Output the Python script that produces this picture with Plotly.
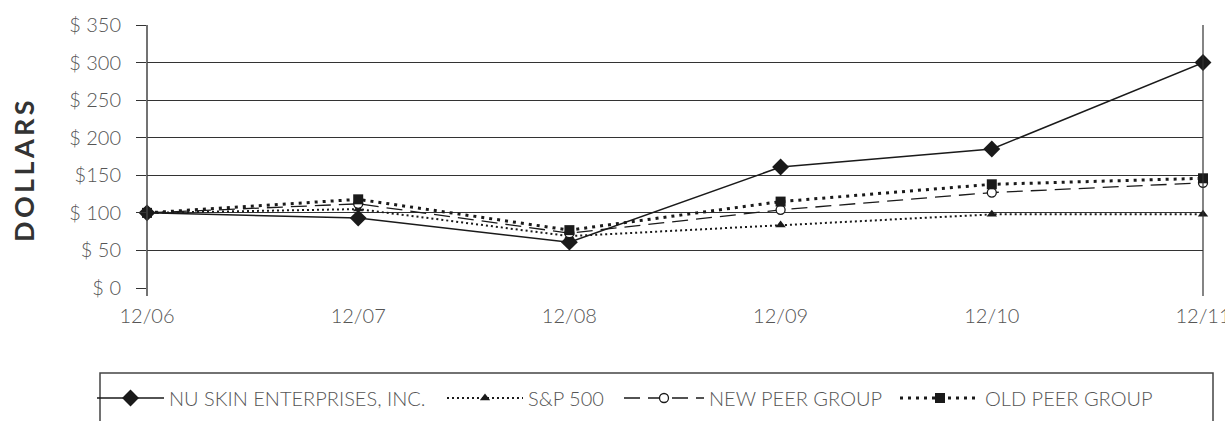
import plotly.graph_objects as go

periods = ["12/06", "12/07", "12/08", "12/09", "12/10", "12/11"]
nu_skin = [100, 93, 61, 161, 185, 300]
sp500 = [100, 105, 69, 84, 98, 98]
new_peer = [100, 112, 73, 104, 127, 140]
old_peer = [100, 118, 77, 115, 138, 146]

y_ticks = [0, 50, 100, 150, 200, 250, 300, 350]
y_tick_labels = ["$ 0", "$ 50", "$ 100", "$150", "$ 200", "$ 250", "$ 300", "$ 350"]

FONT = "Lato"
TXT = "#555555"
INK = "#1a1a1a"
FS = 20

W, H = 1225, 421
L, R, T, B = 147, 22, 25, 133
PW = W - L - R
PH = H - T - B


def px_x(x):  # page pixel -> paper x
    return (x - L) / PW


def px_y(y):  # page pixel -> paper y
    return (H - B - y) / PH


fig = go.Figure()

fig.add_trace(go.Scatter(
    x=periods, y=nu_skin, name="NU SKIN ENTERPRISES, INC.", legend="legend",
    mode="lines+markers", cliponaxis=False,
    line=dict(color=INK, width=1.5),
    marker=dict(symbol="diamond", size=13, color=INK),
))
fig.add_trace(go.Scatter(
    x=periods, y=sp500, name="S&P 500", legend="legend2",
    mode="lines+markers", cliponaxis=False,
    line=dict(color=INK, width=2, dash="2px,3px"),
    marker=dict(symbol="triangle-up", size=9, color=INK),
))
fig.add_trace(go.Scatter(
    x=periods, y=new_peer, name="NEW PEER GROUP", legend="legend3",
    mode="lines+markers", cliponaxis=False,
    line=dict(color=INK, width=1.3, dash="16px,8px"),
    marker=dict(symbol="circle", size=9, color="white", line=dict(color=INK, width=1.3)),
))
fig.add_trace(go.Scatter(
    x=periods, y=old_peer, name="OLD PEER GROUP", legend="legend4",
    mode="lines+markers", cliponaxis=False,
    line=dict(color=INK, width=3, dash="3px,5px"),
    marker=dict(symbol="square", size=10, color=INK),
))

leg_font = dict(family=FONT, size=FS, color=TXT, weight=300)
leg_y = px_y(398)


def leg(xpx, iw):
    return dict(
        orientation="h", x=px_x(xpx), xanchor="left", y=leg_y, yanchor="middle",
        font=leg_font, itemwidth=iw, bgcolor="rgba(0,0,0,0)", borderwidth=0,
        itemclick=False, itemdoubleclick=False,
    )


fig.update_layout(
    width=W, height=H,
    margin=dict(l=L, r=R, t=T, b=B, autoexpand=False),
    plot_bgcolor="white", paper_bgcolor="white",
    font=dict(family=FONT, color=TXT, size=FS, weight=300),
    showlegend=True,
    hovermode=False,
    legend=leg(92, 67),
    legend2=leg(442, 76),
    legend3=leg(619, 80),
    legend4=leg(895, 80),
    xaxis=dict(
        type="category", range=[0, 5], showgrid=False, zeroline=False,
        showline=False, ticks="", automargin=False,
        tickfont=dict(family=FONT, size=FS, color=TXT, weight=300),
        ticklabelstandoff=14, fixedrange=True,
    ),
    yaxis=dict(
        range=[0, 350], tickvals=y_ticks, ticktext=y_tick_labels,
        showgrid=True, gridcolor="#333333", gridwidth=1,
        zeroline=False, showline=False, automargin=False,
        ticks="outside", ticklen=10, tickcolor="#333333", tickwidth=1,
        ticklabelstandoff=11,
        tickfont=dict(family=FONT, size=FS, color=TXT, weight=300),
        fixedrange=True,
    ),
    shapes=[
        dict(type="line", xref="x domain", yref="y domain", x0=0, x1=0, y0=-0.03, y1=1,
             line=dict(color="#444444", width=1.5)),
        dict(type="line", xref="x domain", yref="y domain", x0=1, x1=1, y0=-0.03, y1=1,
             line=dict(color="#333333", width=1.2)),
        dict(type="rect", xref="paper", yref="paper", x0=px_x(100), x1=px_x(1213),
             y0=px_y(440), y1=px_y(373),
             line=dict(color="#444444", width=1.5), fillcolor="rgba(0,0,0,0)", layer="below"),
    ],
    annotations=[
        dict(text="<b>D\u2009O\u2009L\u2009L\u2009A\u2009R\u2009S</b>", textangle=-90,
             xref="paper", yref="paper", x=px_x(23), y=px_y(171),
             xanchor="center", yanchor="middle", showarrow=False,
             font=dict(family=FONT, size=27, color="#333333", weight=700)),
    ],
)

fig.write_html(
    "out.html",
    config={"displayModeBar": False, "staticPlot": True},
    post_script="document.body.style.margin='0';document.body.style.overflow='hidden';",
)
